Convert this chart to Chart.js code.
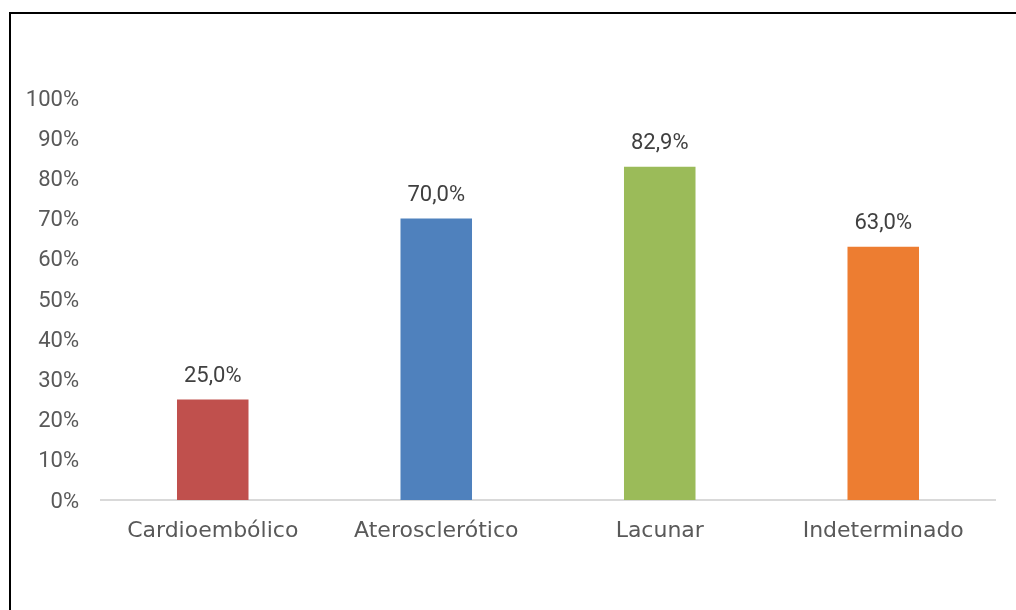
<!DOCTYPE html>
<html>
<head>
<meta charset="utf-8">
<script src="https://cdn.jsdelivr.net/npm/chart.js@4/dist/chart.umd.min.js"></script>
<style>
  html, body { margin: 0; padding: 0; background: #fff; }
  #wrap { position: relative; width: 1016px; height: 610px; overflow: hidden; }
  #frame { position: absolute; left: 9px; top: 12px; right: -10px; bottom: -10px;
           border-left: 2px solid #000; border-top: 2px solid #000; }
  canvas { position: absolute; left: 0; top: 0; }
</style>
</head>
<body>
<div id="wrap">
  <div id="frame"></div>
  <canvas id="chart" width="1016" height="610"></canvas>
</div>
<script>
// tipos de ictus y porcentaje de cada uno
const categorias = ['Cardioembólico', 'Aterosclerótico', 'Lacunar', 'Indeterminado'];
const porcentajes = [25.0, 70.0, 82.9, 63.0];
const colores = ['#C0504D', '#4F81BD', '#9BBB59', '#ED7D31'];

const fuenteCat = '"DejaVu Sans", sans-serif';
const fuenteNum = 'Roboto, sans-serif';

// etiqueta con el valor encima de cada barra
const etiquetas = {
    id: 'etiquetas',
    afterDatasetsDraw(chart) {
        const ctx = chart.ctx;
        const meta = chart.getDatasetMeta(0);
        ctx.save();
        ctx.font = '22px ' + fuenteNum;
        ctx.fillStyle = '#404040';
        ctx.textAlign = 'center';
        ctx.textBaseline = 'middle';
        meta.data.forEach((bar, i) => {
            const txt = porcentajes[i].toFixed(1).replace('.', ',') + '%';
            ctx.fillText(txt, bar.x, bar.y - 23);
        });
        ctx.restore();
    }
};

new Chart(document.getElementById('chart'), {
    type: 'bar',
    data: {
        labels: categorias,
        datasets: [{
            data: porcentajes,
            backgroundColor: colores,
            barPercentage: 0.64,
            categoryPercentage: 0.5
        }]
    },
    options: {
        responsive: false,
        animation: false,
        layout: { padding: { top: 98, right: 21, left: 0, bottom: 0 } },
        plugins: {
            legend: { display: false },
            tooltip: { enabled: false }
        },
        scales: {
            x: {
                grid: { display: false, drawTicks: false },
                border: { display: true, color: '#d9d9d9', width: 2 },
                ticks: { color: '#595959', font: { family: fuenteCat, size: 22 }, padding: 18 },
                afterFit: s => { s.height = 110; }
            },
            y: {
                min: 0,
                max: 100,
                grid: { display: false, drawTicks: false },
                border: { display: false },
                ticks: {
                    stepSize: 10,
                    color: '#595959',
                    font: { family: fuenteNum, size: 22 },
                    padding: 22,
                    labelOffset: 2,
                    callback: v => v + '%'
                },
                afterFit: s => { s.width = 101; }
            }
        }
    },
    plugins: [etiquetas]
});
</script>
</body>
</html>
